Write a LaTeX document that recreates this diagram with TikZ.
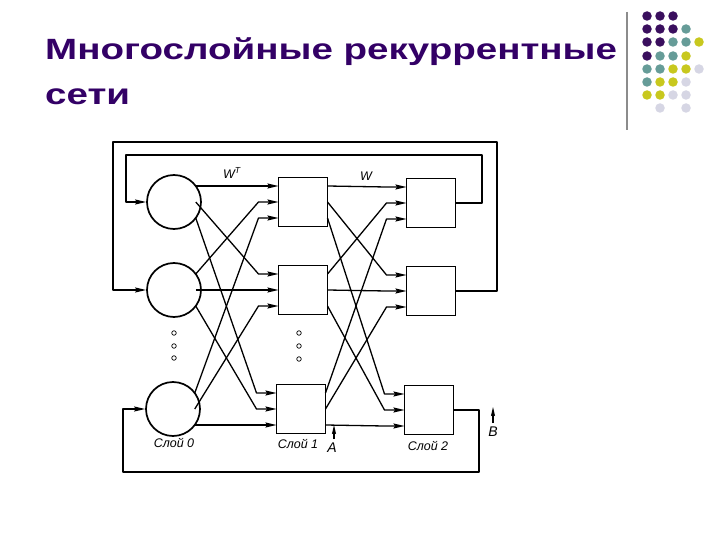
\documentclass[tikz,border=0pt]{standalone}
\usepackage{fontspec}
\setmainfont{Liberation Sans}
\usetikzlibrary{arrows.meta,calc}
\definecolor{ttl}{HTML}{330066}
\definecolor{dpur}{HTML}{3A0F5E}
\definecolor{dteal}{HTML}{669C98}
\definecolor{dyel}{HTML}{C8C81E}
\definecolor{dgry}{HTML}{D6D6E4}
\tikzset{
  neuron/.style={circle,draw,minimum size=54pt,inner sep=0pt,line width=1.7pt},
  unit/.style={rectangle,draw,minimum width=49pt,minimum height=49pt,inner sep=0pt,line width=1.4pt},
  conn/.style={line width=1.3pt,line join=round,-{Stealth[length=11pt,width=5pt,inset=1.5pt]}},
  probe/.style={line width=1.1pt,-{Stealth[length=9pt,width=4pt,inset=1pt]}},
  smalldot/.style={circle,draw,minimum size=4.5pt,inner sep=0pt,line width=0.7pt},
  lbl/.style={font=\fontsize{12.5}{14}\selectfont\itshape,inner sep=0pt},
  biglbl/.style={font=\fontsize{14}{16}\selectfont\itshape,inner sep=0pt},
  deco/.style={circle,inner sep=0pt,minimum size=9.5pt},
  titletext/.style={font=\fontsize{29.3}{35}\selectfont\bfseries,text=ttl,inner sep=0pt,anchor=base west}
}
\begin{document}
\begin{tikzpicture}[x=1pt,y=-1pt]
\useasboundingbox[fill=white] (0,0) rectangle (720,540);

% title
\node[titletext] (t1) at (45,59.3) {\scalebox{1.315}[1]{Многослойные рекуррентные}};
\node[titletext] (t2) at (45,105) {\scalebox{1.315}[1]{сети}};

% decorative bar and dots
\draw[line width=2pt,color=black!45] (627,12) -- (627,130);
\foreach \x/\y/\c in {
  647/16/dpur,660/16/dpur,673/16/dpur,
  647/29/dpur,660/29/dpur,673/29/dpur,686/29/dteal,
  647/42/dpur,660/42/dpur,673/42/dteal,686/42/dteal,699/42/dyel,
  647/56/dpur,660/56/dteal,673/56/dteal,686/56/dyel,
  647/69/dteal,660/69/dteal,673/69/dyel,686/69/dyel,699/69/dgry,
  647/82/dteal,660/82/dyel,673/82/dyel,686/82/dgry,
  647/95/dyel,660/95/dyel,673/95/dgry,686/95/dgry,
  660/108/dgry,686/108/dgry}
  \node[deco,fill=\c] at (\x,\y) {};

% layer 0
\node[neuron] (c1) at (174,202) {};
\node[neuron] (c2) at (174,290) {};
\node[neuron] (c3) at (173,409) {};
% layer 1
\node[unit] (b11) at (303,202) {};
\node[unit] (b12) at (303,290) {};
\node[unit] (b13) at (301,409) {};
% layer 2
\node[unit] (b21) at (431,203) {};
\node[unit] (b22) at (431,291) {};
\node[unit] (b23) at (429,410) {};

% layer 0 -> layer 1
\foreach \i in {1,2,3}
  \foreach \j in {1,2,3}
    \draw[conn] ($(c\i.center)+(21.75,{16*(\j-2)})$)
      -- ($(b1\j.center)+(-44.5,{16*(\i-2)})$)
      -- ($(b1\j.center)+(-24.5,{16*(\i-2)})$);

% layer 1 -> layer 2
\foreach \i in {1,2,3}
  \foreach \j in {1,2,3}
    \draw[conn] ($(b1\i.center)+(24.5,{16*(\j-2)})$)
      -- ($(b2\j.center)+(-44.5,{16*(\i-2)})$)
      -- ($(b2\j.center)+(-24.5,{16*(\i-2)})$);

% feedback loops
\coordinate (ia) at (482,155);
\coordinate (ib) at (126,155);
\coordinate (oa) at (497,142);
\coordinate (ob) at (113,142);
\coordinate (ua) at (479,472);
\coordinate (ub) at (123,472);
\draw[conn] (b21.east) -| (ia) -- (ib) |- (c1.west);
\draw[conn] (b22.east) -| (oa) -- (ob) |- (c2.west);
\draw[conn] (b23.east) -| (ua) -- (ub) |- (c3.west);

% ellipsis dots
\node[smalldot] (d1) at (174,333) {};
\node[smalldot] (d2) at (174,346) {};
\node[smalldot] (d3) at (174,358) {};
\node[smalldot] (e1) at (299,333) {};
\node[smalldot] (e2) at (299,346) {};
\node[smalldot] (e3) at (299,359) {};

% weight labels
\node[lbl] (wt) at (232,173) {W\textsuperscript{T}};
\node[lbl] (w) at (366,176) {W};

% layer labels
\node[lbl] (s0) at (174,443) {Слой 0};
\node[lbl] (s1) at (298,444) {Слой 1};
\node[lbl] (s2) at (428,446) {Слой 2};

% probe points A and B
\coordinate (pa1) at (334,439);
\coordinate (pa2) at (334,425);
\coordinate (pb1) at (493,423);
\coordinate (pb2) at (493,407);
\draw[probe] (pa1) -- (pa2);
\draw[probe] (pb1) -- (pb2);
\node[biglbl] (la) at (332,448) {A};
\node[biglbl] (lb) at (493,432) {B};
\end{tikzpicture}
\end{document}
